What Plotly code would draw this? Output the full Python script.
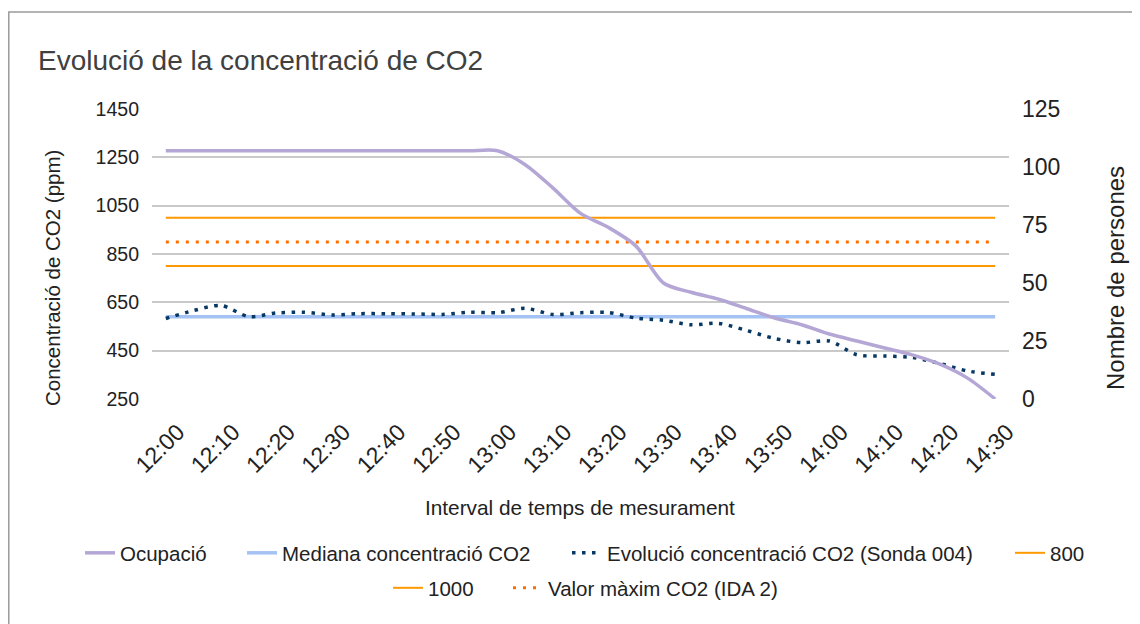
import plotly.graph_objects as go

# ---------------- data ----------------
times = ["12:00", "12:05", "12:10", "12:15", "12:20", "12:25", "12:30", "12:35",
         "12:40", "12:45", "12:50", "12:55", "13:00", "13:05", "13:10", "13:15",
         "13:20", "13:25", "13:30", "13:35", "13:40", "13:45", "13:50", "13:55",
         "14:00", "14:05", "14:10", "14:15", "14:20", "14:25", "14:30"]
tick_labels = ["12:00", "12:10", "12:20", "12:30", "12:40", "12:50", "13:00", "13:10",
               "13:20", "13:30", "13:40", "13:50", "14:00", "14:10", "14:20", "14:30"]

ocupacio = [107, 107, 107, 107, 107, 107, 107, 107, 107, 107, 107, 107, 107,
            101, 91, 80, 74, 66, 50, 46, 43, 39, 35, 32, 28, 25, 22, 19, 15, 9, 0]
co2_sonda = [583, 616, 637, 591, 606, 609, 598, 603, 603, 602, 600, 609, 607, 625,
             600, 607, 608, 585, 576, 557, 563, 534, 501, 483, 490, 433, 428, 422,
             397, 366, 352]
mediana_co2 = 590
limit_800 = 800
limit_1000 = 1000
valor_max_ida2 = 900

series_names = ["Ocupació", "Mediana concentració CO2",
                "Evolució concentració CO2 (Sonda 004)", "800", "1000",
                "Valor màxim CO2 (IDA 2)"]

# ---------------- geometry ----------------
# the page body has an 8px margin, so screen px = figure px + 8
OFF = 8
W, H = 1132, 616
L, T = 152 - OFF, 109 - OFF
PW, PH = 857, 290
R, B = W - L - PW, H - T - PH


def px_x(px):
    return (px - OFF - L) / PW


def px_y(py):
    return (T + PH - (py - OFF)) / PH


FONT = "Liberation Sans, Arial, sans-serif"
TXT = "#222222"

n = len(times)
fig = go.Figure()

fig.add_trace(go.Scatter(
    x=times, y=[mediana_co2] * n, name=series_names[1], mode="lines",
    line=dict(color="#a4c2f4", width=3.5), legend="legend2"))
fig.add_trace(go.Scatter(
    x=times, y=co2_sonda, name=series_names[2], mode="lines",
    line=dict(color="#073763", width=3.5, dash="3.5px,6.5px", shape="spline", smoothing=0.8),
    legend="legend3"))
fig.add_trace(go.Scatter(
    x=times, y=[limit_800] * n, name=series_names[3], mode="lines",
    line=dict(color="#ff9900", width=2), legend="legend4"))
fig.add_trace(go.Scatter(
    x=times, y=[limit_1000] * n, name=series_names[4], mode="lines",
    line=dict(color="#ff9900", width=2), legend="legend5"))
fig.add_trace(go.Scatter(
    x=times, y=[valor_max_ida2] * n, name=series_names[5], mode="lines",
    line=dict(color="#ff6d01", width=3, dash="3px,7px"), legend="legend6"))
fig.add_trace(go.Scatter(
    x=times, y=ocupacio, name=series_names[0], mode="lines", yaxis="y2",
    line=dict(color="#b4a7d6", width=3.5, shape="spline", smoothing=0.8),
    legend="legend"))

# legend positions (text start x, row centre y) (screen px)
legend_pos = {
    "legend": (120, 553),
    "legend2": (282, 553),
    "legend3": (607, 553),
    "legend4": (1050, 553),
    "legend5": (428, 588),
    "legend6": (548, 588),
}
legend_layout = {}
for key, (tx, ty) in legend_pos.items():
    legend_layout[key] = dict(
        x=px_x(tx - 40), xanchor="left", y=px_y(ty), yanchor="middle",
        orientation="h", bgcolor="rgba(0,0,0,0)", borderwidth=0,
        font=dict(family=FONT, size=20.5, color=TXT))

fig.update_layout(
    width=W, height=H,
    margin=dict(l=L, r=R, t=T, b=B, autoexpand=False),
    paper_bgcolor="white", plot_bgcolor="white",
    font=dict(family=FONT, color=TXT),
    title=dict(text="Evolució de la concentració de CO2", xref="container",
               x=(38 - OFF) / W, xanchor="left", yref="container", y=1 - (60 - OFF) / H,
               yanchor="middle", font=dict(family=FONT, size=28, color="#404040")),
    xaxis=dict(type="category", categoryorder="array", categoryarray=times,
               range=[-0.5, len(times) - 0.5],
               tickmode="array", tickvals=tick_labels, ticktext=tick_labels,
               tickangle=-45, showgrid=False, showline=False, zeroline=False,
               ticks="", ticklabelstandoff=14, ticklabelshift=12,
               tickfont=dict(family=FONT, size=23, color=TXT)),
    yaxis=dict(range=[250, 1450], tickmode="linear", tick0=250, dtick=200,
               showgrid=True, gridcolor="#c9c9c9", gridwidth=1.6,
               zeroline=False, showline=False, ticks="", ticklabelstandoff=12,
               tickfont=dict(family=FONT, size=19.5, color=TXT)),
    yaxis2=dict(range=[0, 125], tickmode="linear", tick0=0, dtick=25,
                overlaying="y", side="right", showgrid=False, zeroline=False,
                showline=False, ticks="", ticklabelstandoff=12,
                tickfont=dict(family=FONT, size=23, color=TXT)),
    showlegend=True,
    **legend_layout,
    annotations=[
        dict(text="Concentració de CO2 (ppm)", textangle=-90, xref="paper", yref="paper",
             x=px_x(52), y=px_y(278), xanchor="center", yanchor="middle", showarrow=False,
             font=dict(family=FONT, size=20.5, color=TXT)),
        dict(text="Nombre de persones", textangle=-90, xref="paper", yref="paper",
             x=px_x(1115), y=px_y(278), xanchor="center", yanchor="middle", showarrow=False,
             font=dict(family=FONT, size=24, color=TXT)),
        dict(text="Interval de temps de mesurament", xref="paper", yref="paper",
             x=px_x(580), y=px_y(507), xanchor="center", yanchor="middle", showarrow=False,
             font=dict(family=FONT, size=20.8, color=TXT)),
    ],
    shapes=[dict(type="rect", xref="paper", yref="paper",
                 x0=px_x(8.8), x1=px_x(1200), y0=px_y(700), y1=px_y(12),
                 line=dict(color="#9a9a9a", width=1.5), fillcolor="rgba(0,0,0,0)",
                 layer="below")],
)

fig.write_html("out.html")
